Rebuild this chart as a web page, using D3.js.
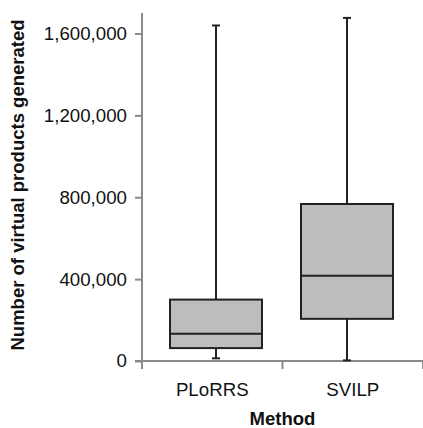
<!DOCTYPE html>
<html>
<head>
<meta charset="utf-8">
<script src="https://cdn.jsdelivr.net/npm/d3@7"></script>
<style>
  body { margin: 0; background: #fff; }
  text { font-family: "Liberation Sans", Arial, sans-serif; }
</style>
</head>
<body>
<div id="chart"></div>
<script>
// box plot summaries
var methods = ['PLoRRS', 'SVILP'],
    whiskerLow = [13000, 3000],
    boxLow = [63000, 206000],
    medians = [133000, 416000],
    boxHigh = [300000, 767000],
    whiskerHigh = [1639000, 1676000],
    yTicks = [0, 400000, 800000, 1200000, 1600000];

var width = 423, height = 428,
    margin = {top: 13, right: 0, bottom: 67, left: 142},
    boxWidth = 92,
    capWidth = 8;

var svg = d3.select('#chart').append('svg')
    .attr('width', width)
    .attr('height', height);

var y = d3.scaleLinear()
    .domain([0, 1700000])
    .range([height - margin.bottom, margin.top]);

var x = d3.scaleBand()
    .domain(methods)
    .range([margin.left, width - margin.right]);

// boxes sit a little off the band centres in the original
var bx = d3.scalePoint()
    .domain(methods)
    .range([margin.left + 74, width - margin.right - 76]);

var stats = methods.map(function (m, i) {
    return {name: m, lo: whiskerLow[i], q1: boxLow[i], med: medians[i],
            q3: boxHigh[i], hi: whiskerHigh[i]};
});

// y axis
var yAxis = svg.append('g')
    .attr('transform', 'translate(' + margin.left + ',0)')
    .call(d3.axisLeft(y).tickValues(yTicks).tickSize(7).tickPadding(8)
        .tickFormat(d3.format(',')));
yAxis.selectAll('line, path').attr('stroke', '#8a8a8a').attr('stroke-width', 2);
yAxis.select('.domain').attr('d', 'M0,' + y(0) + 'V' + margin.top);
yAxis.selectAll('text').attr('font-size', 18.7).attr('fill', '#111')
    .attr('font-family', '"Liberation Sans", Arial, sans-serif');

// x axis
var xAxis = svg.append('g')
    .attr('transform', 'translate(0,' + y(0) + ')')
    .call(d3.axisBottom(x).tickSize(0).tickPadding(22));
xAxis.select('.domain').attr('stroke', '#8a8a8a').attr('stroke-width', 2)
    .attr('d', 'M' + (margin.left - 7) + ',0H' + width);
xAxis.selectAll('text').attr('font-size', 18.7).attr('fill', '#111')
    .attr('font-family', '"Liberation Sans", Arial, sans-serif');
// separators between categories
xAxis.selectAll('.sep')
    .data([margin.left].concat(methods.map(function (m) { return x(m) + x.bandwidth(); })))
    .enter().append('line')
    .attr('x1', function (d) { return d; })
    .attr('x2', function (d) { return d; })
    .attr('y1', 0).attr('y2', 8)
    .attr('stroke', '#8a8a8a').attr('stroke-width', 2);

// whiskers
var g = svg.append('g');
g.selectAll('.whisker')
    .data(stats).enter().append('line')
    .attr('x1', function (d) { return bx(d.name); })
    .attr('x2', function (d) { return bx(d.name); })
    .attr('y1', function (d) { return y(d.lo); })
    .attr('y2', function (d) { return y(d.hi); })
    .attr('stroke', '#222').attr('stroke-width', 2);

['lo', 'hi'].forEach(function (k) {
    g.selectAll('.cap-' + k)
        .data(stats).enter().append('line')
        .attr('x1', function (d) { return bx(d.name) - capWidth / 2; })
        .attr('x2', function (d) { return bx(d.name) + capWidth / 2; })
        .attr('y1', function (d) { return y(d[k]); })
        .attr('y2', function (d) { return y(d[k]); })
        .attr('stroke', '#222').attr('stroke-width', 2);
});

// boxes
g.selectAll('.box')
    .data(stats).enter().append('rect')
    .attr('x', function (d) { return bx(d.name) - boxWidth / 2; })
    .attr('width', boxWidth)
    .attr('y', function (d) { return y(d.q3); })
    .attr('height', function (d) { return y(d.q1) - y(d.q3); })
    .attr('fill', '#bdbdbd')
    .attr('stroke', '#222').attr('stroke-width', 2);

g.selectAll('.median')
    .data(stats).enter().append('line')
    .attr('x1', function (d) { return bx(d.name) - boxWidth / 2; })
    .attr('x2', function (d) { return bx(d.name) + boxWidth / 2; })
    .attr('y1', function (d) { return y(d.med); })
    .attr('y2', function (d) { return y(d.med); })
    .attr('stroke', '#222').attr('stroke-width', 2);

// axis titles
svg.append('text')
    .attr('transform', 'translate(24,' + ((y(0) + margin.top) / 2 - 2) + ') rotate(-90)')
    .attr('text-anchor', 'middle')
    .attr('font-size', 18.5).attr('font-weight', 'bold').attr('fill', '#111')
    .text('Number of virtual products generated');

svg.append('text')
    .attr('x', (margin.left + width) / 2)
    .attr('y', height - 3)
    .attr('text-anchor', 'middle')
    .attr('font-size', 18.5).attr('font-weight', 'bold').attr('fill', '#111')
    .text('Method');
</script>
</body>
</html>
